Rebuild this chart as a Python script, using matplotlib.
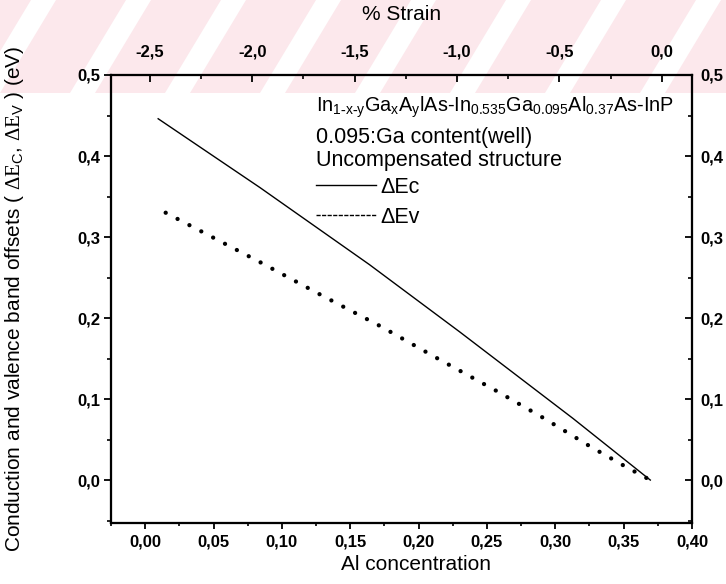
import matplotlib
matplotlib.use("Agg")
import matplotlib.pyplot as plt
from matplotlib.lines import Line2D
from matplotlib.patches import Polygon
from matplotlib.ticker import MultipleLocator, FuncFormatter

plt.rcParams['font.family'] = ['Liberation Sans', 'DejaVu Sans']
plt.rcParams['mathtext.fontset'] = 'custom'
plt.rcParams['mathtext.rm'] = 'Liberation Serif'
plt.rcParams['mathtext.default'] = 'regular'

# values
al_ec = [0.0095, 0.084, 0.164, 0.230, 0.313, 0.3695]
dEc = [0.446, 0.361, 0.266, 0.183, 0.076, 0.0]
al_ev = [0.015, 0.084, 0.128, 0.172, 0.214, 0.257, 0.292, 0.326, 0.352, 0.3695]
dEv = [0.330, 0.269, 0.229, 0.190, 0.150, 0.110, 0.076, 0.041, 0.016, 0.0]

strain_lim = (-2.69, 0.148)
al_lim = (-0.025, 0.40)
e_lim = (-0.053, 0.5)

W, H = 726, 584
fig = plt.figure(figsize=(W/100, H/100), dpi=100)

# faint pink diagonal stripes across the top (scan watermark)
band = 93
for k in range(-2, 10):
    x0 = k * 95
    pts = [(x0, H - band), (x0 + 70, H - band), (x0 + 70 + 56, H), (x0 + 56, H)]
    fig.patches.append(Polygon(pts, closed=True, transform=None,
                               facecolor='#fce8ec', edgecolor='none', zorder=-5))

ax = fig.add_axes([111/W, 1-523/H, 581/W, 448/H])
ax.patch.set_alpha(0)

ax.plot(al_ec, dEc, color='k', lw=1.0)
ax.plot(al_ev, dEv, color='k', lw=3.1, linestyle=(0, (0.01, 3.1)),
        dash_capstyle='round')

ax.set_xlim(*al_lim)
ax.set_ylim(*e_lim)

comma2 = FuncFormatter(lambda v, p: f'{v:.2f}'.replace('.', ','))
comma1 = FuncFormatter(lambda v, p: f'{v:.1f}'.replace('.', ','))

ax.xaxis.set_major_locator(MultipleLocator(0.05))
ax.xaxis.set_minor_locator(MultipleLocator(0.025))
ax.xaxis.set_major_formatter(comma2)
ax.yaxis.set_major_locator(MultipleLocator(0.1))
ax.yaxis.set_minor_locator(MultipleLocator(0.05))
ax.yaxis.set_major_formatter(comma1)
ax.tick_params(axis='x', which='major', direction='out', length=4, width=1.3,
               labelsize=12, pad=4)
ax.tick_params(axis='x', which='minor', direction='out', length=2.5, width=1.2)
ax.tick_params(axis='y', which='major', direction='out', length=5, width=1.3,
               labelsize=12, pad=3)
ax.tick_params(axis='y', which='minor', direction='out', length=3, width=1.2)
for lab in ax.get_xticklabels() + ax.get_yticklabels():
    lab.set_fontweight('bold')
for s in ax.spines.values():
    s.set_linewidth(1.5)

# right axis, same scale
axr = ax.twinx()
axr.patch.set_alpha(0)
axr.set_ylim(*e_lim)
axr.yaxis.set_major_locator(MultipleLocator(0.1))
axr.yaxis.set_minor_locator(MultipleLocator(0.05))
axr.yaxis.set_major_formatter(comma1)
axr.tick_params(axis='y', which='major', direction='in', length=5, width=1.3,
                labelsize=12, pad=6)
axr.tick_params(axis='y', which='minor', direction='in', length=3, width=1.2)
for lab in axr.get_yticklabels():
    lab.set_fontweight('bold')

# top axis, % strain
axt = ax.twiny()
axt.patch.set_alpha(0)
axt.set_xlim(*strain_lim)
axt.xaxis.set_major_locator(MultipleLocator(0.5))
axt.xaxis.set_minor_locator(MultipleLocator(0.25))
axt.xaxis.set_major_formatter(comma1)
axt.tick_params(axis='x', which='major', direction='in', length=5, width=1.3,
                labelsize=12, pad=11)
axt.tick_params(axis='x', which='minor', direction='in', length=3, width=1.2)
for lab in axt.get_xticklabels():
    lab.set_fontweight('bold')
axt.set_xlabel('% Strain', fontsize=15, labelpad=18)
for a in (axr, axt):
    for s in a.spines.values():
        s.set_linewidth(1.5)

ax.set_xlabel('Al concentration', fontsize=15)
ax.xaxis.set_label_coords((416-111)/581, -0.072)
ax.set_ylabel(r'Conduction and valence band offsets ( $\mathrm{\Delta E}_C$, $\mathrm{\Delta E}_V$ ) (eV)',
              fontsize=15)
ax.yaxis.set_label_coords(-0.146, 0.5)

tx = (316-111)/581
ax.text(tx, (523-112)/448,
        r'In$_{1\text{-}x\text{-}y}$Ga$_x$A$_y$lAs-In$_{0.535}$Ga$_{0.095}$Al$_{0.37}$As-InP',
        transform=ax.transAxes, fontsize=14.3, va='baseline')
ax.text(tx, (523-143.5)/448, '0.095:Ga content(well)',
        transform=ax.transAxes, fontsize=15.5, va='baseline')
ax.text(tx, (523-166)/448, 'Uncompensated structure',
        transform=ax.transAxes, fontsize=15.5, va='baseline')

handles = [Line2D([], [], color='k', lw=1.0),
           Line2D([], [], color='k', lw=1.0, linestyle=(0, (3, 1)))]
ax.legend(handles, ['\u0394Ec', '\u0394Ev'], loc='upper left',
          bbox_to_anchor=(tx, (523-177)/448), frameon=False, fontsize=15.5,
          borderpad=0, borderaxespad=0, handlelength=2.8, handletextpad=0.2,
          labelspacing=0.4)

fig.savefig('out.png', dpi=100)
